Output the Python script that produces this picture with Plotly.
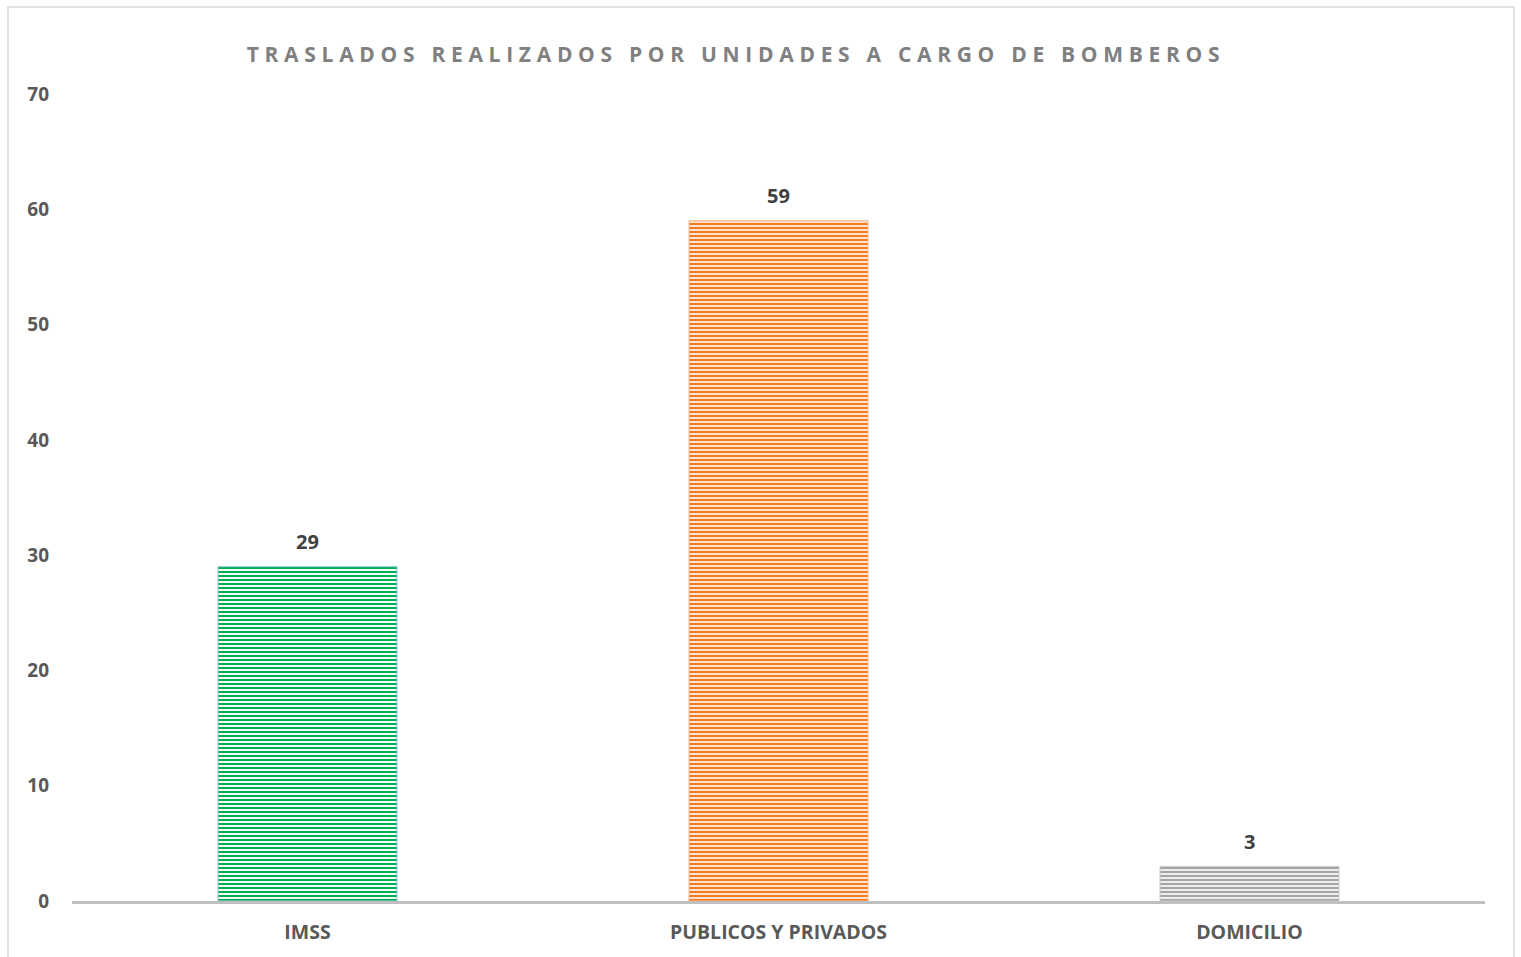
import plotly.graph_objects as go

categories = ["IMSS", "PUBLICOS Y PRIVADOS", "DOMICILIO"]
values = [29, 59, 3]
stripe_colors = ["#00B050", "#F47B20", "#A5A5A5"]
bg_colors = ["#F2FBF6", "#FCE3CF", "#EDEDED"]
edge_colors = ["#8CC4D8", "#F8B58A", "#C8C8C8"]
title_text = "TRASLADOS REALIZADOS POR UNIDADES A CARGO DE BOMBEROS"

W, H = 1521, 957
L, R, T, B = 72, 1485, 94, 901

fig = go.Figure()
for cat, val, sc, bc, ec in zip(categories, values, stripe_colors, bg_colors, edge_colors):
    fig.add_trace(go.Bar(
        x=[cat], y=[val],
        width=0.38,
        marker=dict(
            color=bc,
            line=dict(color=ec, width=1),
            pattern=dict(shape="-", fgcolor=sc, bgcolor=bc,
                         size=4, solidity=0.5, fillmode="replace", fgopacity=1),
        ),
        showlegend=False,
        name=cat,
    ))
    fig.add_annotation(x=cat, y=val, yshift=25, text=str(val), showarrow=False,
                       font=dict(family="Open Sans", size=20, color="#404040", weight="bold"))

def px(xp):
    return (xp - L) / (R - L)

def py(yp):
    return (B - yp) / (B - T)

fig.add_shape(type="rect", xref="paper", yref="paper",
              x0=px(8), x1=px(1514), y0=py(975), y1=py(7),
              line=dict(color="#D9D9D9", width=1.5), fillcolor="rgba(0,0,0,0)", layer="below")

fig.update_layout(
    width=W, height=H,
    barmode="overlay",
    margin=dict(l=L, r=W - R, t=T, b=H - B, pad=0, autoexpand=False),
    paper_bgcolor="white", plot_bgcolor="white",
    title=dict(text=title_text, x=736 / W, xanchor="center", xref="container",
               y=1 - 55 / H, yanchor="middle", yref="container",
               font=dict(family="Open Sans", size=21, color="#808080", weight="bold")),
    xaxis=dict(showline=True, linecolor="#BFBFBF", linewidth=3, showgrid=False, automargin=False,
               categoryorder="array", categoryarray=categories,
               ticks="", tickfont=dict(family="Open Sans", size=19.5, color="#595959", weight="bold"),
               ticklabelstandoff=12),
    yaxis=dict(range=[0, 70], dtick=10, showgrid=False, zeroline=False, showline=False, automargin=False,
               ticks="", tickfont=dict(family="Open Sans", size=19, color="#595959", weight="bold"),
               ticklabelstandoff=22),
)

post = """
document.body.style.margin = '0';
document.documentElement.style.margin = '0';
var t = document.querySelector('.gtitle');
if (t) { t.style.letterSpacing = '5.7px'; }
"""
fig.write_html("out.html", post_script=post, config={"displayModeBar": False})
